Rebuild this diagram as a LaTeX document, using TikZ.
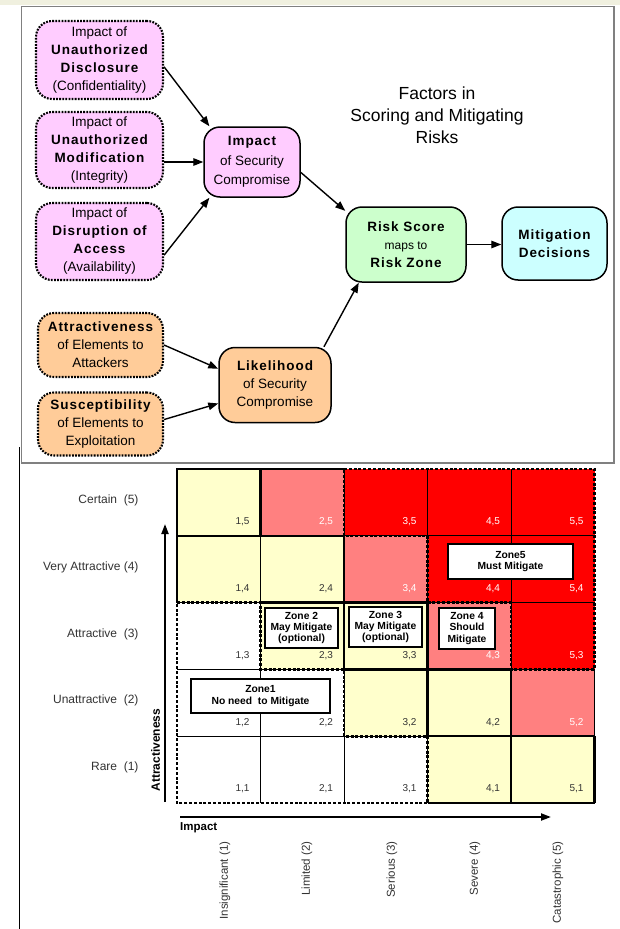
\documentclass[tikz,border=0pt]{standalone}
\usepackage{fontspec}
\setmainfont{Liberation Sans}
\newfontfamily\spfont[LetterSpace=7]{Liberation Sans}
\usetikzlibrary{arrows.meta}
\definecolor{pinkf}{HTML}{FFCCFF}
\definecolor{orangef}{HTML}{FFCC99}
\definecolor{greenf}{HTML}{CCFFCC}
\definecolor{cyanf}{HTML}{CCFFFF}
\definecolor{yel}{HTML}{FFFFCC}
\definecolor{sal}{HTML}{FF8080}
\definecolor{redz}{HTML}{FF0000}
\definecolor{band}{HTML}{F0F0DF}
\definecolor{framec}{HTML}{808080}
\definecolor{txtc}{HTML}{333333}
\newcommand{\mybf}[1]{{\spfont\bfseries #1}}
\begin{document}
\begin{tikzpicture}[x=1pt,y=-1pt,
  arr/.style={line width=1.4pt,-{Triangle[length=10pt,width=7.5pt]}},
  axarr/.style={line width=2pt,-{Triangle[length=10pt,width=7pt]}},
  dotbox/.style={draw,line width=2.1pt,dash pattern=on 1.8pt off 1.3pt,rounded corners=16pt,align=center,inner sep=0pt},
  solbox/.style={draw,line width=1.5pt,rounded corners=16pt,align=center,inner sep=0pt},
  ntext/.style={font=\fontsize{13.5}{18}\selectfont},
  zonebox/.style={draw,fill=white,line width=1.5pt,align=center,inner sep=0pt,font=\fontsize{10.3}{11.2}\selectfont\bfseries},
  rowlab/.style={anchor=east,font=\fontsize{12}{14}\selectfont,text=txtc},
  collab/.style={anchor=east,rotate=90,font=\fontsize{11.5}{13}\selectfont,text=txtc},
  celllab/.style={font=\fontsize{10}{12}\selectfont},
  thickln/.style={line width=2.4pt,line cap=square},
  thinln/.style={line width=0.7pt},
  zdash/.style={line width=2.6pt,dash pattern=on 3pt off 1.8pt}
]
\useasboundingbox (0,0) rectangle (620,929);
\fill[white] (0,0) rectangle (620,929);
\fill[band] (0,0) rectangle (620,5);
% frame of the top diagram
\draw[framec,line width=1.2pt] (21.5,6.5) rectangle (614,463);
\draw[black,line width=1pt] (19,447) -- (19,929);

% title
\node[align=center,font=\fontsize{17.5}{22}\selectfont] (title) at (437,115) {Factors in\\Scoring and Mitigating\\Risks};

% nodes of the top diagram
\node[dotbox,fill=pinkf,minimum width=127pt,minimum height=78pt,ntext] (n1) at (99.5,60)
  {Impact of\\\mybf{Unauthorized}\\\mybf{Disclosure}\\(Confidentiality)};
\node[dotbox,fill=pinkf,minimum width=127pt,minimum height=76pt,ntext] (n2) at (99.5,150)
  {Impact of\\\mybf{Unauthorized}\\\mybf{Modification}\\(Integrity)};
\node[dotbox,fill=pinkf,minimum width=127pt,minimum height=77pt,ntext] (n3) at (99.5,241.5)
  {Impact of\\\mybf{Disruption of}\\\mybf{Access}\\(Availability)};
\node[solbox,fill=pinkf,minimum width=96pt,minimum height=70pt,font=\fontsize{13.5}{19.5}\selectfont] (imp) at (252,162)
  {\mybf{Impact}\\of Security\\Compromise};
\node[dotbox,fill=orangef,minimum width=125pt,minimum height=64pt,ntext] (att) at (100.5,345)
  {\mybf{Attractiveness}\\of Elements to\\Attackers};
\node[dotbox,fill=orangef,minimum width=125pt,minimum height=63pt,ntext] (sus) at (100.5,424)
  {\mybf{Susceptibility}\\of Elements to\\Exploitation};
\node[solbox,fill=orangef,minimum width=112pt,minimum height=75pt,ntext] (lik) at (275,385)
  {\mybf{Likelihood}\\of Security\\Compromise};
\node[solbox,fill=greenf,minimum width=120pt,minimum height=75pt,ntext] (risk) at (406,244.5)
  {\mybf{Risk Score}\\{\fontsize{12}{18}\selectfont maps to}\\\mybf{Risk Zone}};
\node[solbox,fill=cyanf,minimum width=105pt,minimum height=73pt,ntext] (mit) at (554.5,243.5)
  {\mybf{Mitigation}\\\mybf{Decisions}};

% connectors of the top diagram
\draw[arr] (n1.-6) -- (imp.140);
\draw[arr] (n2.east |- imp.west) -- (imp.west);
\draw[arr] (n3.-12) -- (imp.-140);
\draw[arr] (imp.-12) -- (risk.151);
\draw[arr] (att.east) -- (lik.164);
\draw[arr] (sus.4) -- (lik.198);
\draw[arr] (lik.38) -- (risk.-141);
\draw[arr] (risk.east) -- (risk.east -| mit.west);

% risk matrix
\begin{scope}[shift={(177,803)},x=83.5pt,y=66.8pt]
  \foreach \i in {1,...,5}{
    \foreach \j in {1,...,5}{
      \pgfmathtruncatemacro\s{\i+\j}
      \ifnum\s<5 \def\cc{white}\def\tc{txtc}\else
        \ifnum\s<7 \def\cc{yel}\def\tc{txtc}\else
          \ifnum\s=7 \def\cc{sal}\def\tc{white}\else\def\cc{redz}\def\tc{white}\fi
        \fi
      \fi
      \fill[\cc] (\i-1,\j-1) rectangle (\i,\j);
      \node[celllab,text=\tc] (c\i\j) at (\i-0.216,\j-0.79) {\i,\j};
    }
  }
  \foreach \k in {1,...,4}{
    \draw[thinln] (\k,0) -- (\k,5);
    \draw[thinln] (0,\k) -- (5,\k);
  }
  \draw[thinln] (5,1) -- (5,2);
  % solid borders of the middle zones
  \draw[thickln] (0,3) -- (0,5) -- (2,5);
  \draw[thickln] (1,5) -- (1,4);
  \draw[thickln] (0,4) -- (2,4);
  \draw[thickln] (2,4) -- (2,2);
  \draw[thickln] (1,3) -- (3,3);
  \draw[thickln] (3,3) -- (3,1);
  \draw[thickln] (2,2) -- (4,2);
  \draw[thickln] (4,2) -- (4,0);
  \draw[thickln] (3,1) -- (5,1);
  \draw[thickln] (5,1) -- (5,0);
  \draw[thickln] (3,0) -- (5,0);
  % dashed outlines of zone 5 and zone 1
  \draw[zdash] (2,5) -- (5,5) -- (5,2) -- (4,2) -- (4,3) -- (3,3) -- (3,4) -- (2,4) -- cycle;
  \draw[zdash] (0,3) -- (1,3) -- (1,2) -- (2,2) -- (2,1) -- (3,1) -- (3,0) -- (0,0) -- cycle;
\end{scope}

% zone labels
\node[zonebox,minimum width=139pt,minimum height=34pt] (z1) at (260.5,696) {Zone1\\No need\ \ to Mitigate};
\node[zonebox,minimum width=73pt,minimum height=40pt] (z2) at (301.5,628) {Zone 2\\May Mitigate\\(optional)};
\node[zonebox,minimum width=73pt,minimum height=40pt] (z3) at (385.5,627) {Zone 3\\May Mitigate\\(optional)};
\node[zonebox,minimum width=56pt,minimum height=41pt] (z4) at (467,628.5) {Zone 4\\Should\\Mitigate};
\node[zonebox,minimum width=125pt,minimum height=35pt] (z5) at (510.5,561.5) {Zone5\\Must Mitigate};

% row labels
\node[rowlab] (r5) at (142,500) {Certain\ \ (5)};
\node[rowlab] (r4) at (142,567) {Very Attractive (4)};
\node[rowlab] (r3) at (142,634) {Attractive\ \ (3)};
\node[rowlab] (r2) at (142,700) {Unattractive\ \ (2)};
\node[rowlab] (r1) at (142,767) {Rare\ \ (1)};

% axes
\coordinate (ya0) at (165,802);
\coordinate (ya1) at (165,524);
\draw[axarr] (ya0) -- (ya1);
\node[rotate=90,font=\fontsize{12}{14}\selectfont\bfseries] (ylab) at (155.5,750) {Attractiveness};
\coordinate (xa0) at (180,817);
\coordinate (xa1) at (551,817);
\draw[axarr] (xa0) -- (xa1);
\node[anchor=west,inner sep=0pt,font=\fontsize{11.5}{13}\selectfont\bfseries] (xlab) at (180,828) {Impact};

% column labels
\node[collab] (k1) at (225,838) {Insignificant (1)};
\node[collab] (k2) at (307,838) {Limited (2)};
\node[collab] (k3) at (392,838) {Serious (3)};
\node[collab] (k4) at (475,838) {Severe (4)};
\node[collab] (k5) at (558,838) {Catastrophic (5)};
\end{tikzpicture}
\end{document}
